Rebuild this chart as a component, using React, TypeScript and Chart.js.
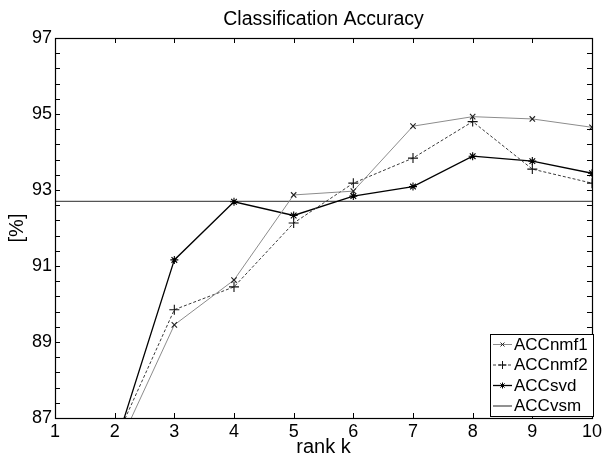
import React, { useEffect, useRef } from "react";
import { Chart, registerables } from "chart.js";
import { drawPoint } from "chart.js/helpers";

Chart.register(...registerables);

// ---------------- data ----------------
const ranks = [1, 2, 3, 4, 5, 6, 7, 8, 9, 10];
const accNmf1: (number | null)[] = [null, 86.05, 89.45, 90.63, 92.87, 92.97, 94.68, 94.93, 94.87, 94.65];
const accNmf2: (number | null)[] = [null, 86.38, 89.85, 90.45, 92.13, 93.18, 93.84, 94.8, 93.55, 93.18];
const accSvd: (number | null)[] = [null, 86.21, 91.16, 92.69, 92.33, 92.84, 93.09, 93.89, 93.76, 93.44];
const accVsm: number[] = [92.7, 92.7, 92.7, 92.7, 92.7, 92.7, 92.7, 92.7, 92.7, 92.7];
const seriesNames = ["ACCnmf1", "ACCnmf2", "ACCsvd", "ACCvsm"];
const yMin = 87;
const yMax = 97;
const yLabelStep = 2;
const yMinorStep = 0.4;
const xMin = 1;
const xMax = 10;
const titleText = "Classification Accuracy";
const xTitle = "rank k";
const yTitle = "[%]";

const FONT = "'Liberation Sans', Arial, Helvetica, sans-serif";

const toPoints = (arr: (number | null)[]) => ranks.map((k, i) => ({ x: k, y: arr[i] }));

const styles = [
  { color: "#8c8c8c", pointColor: "#222", width: 1, dash: [] as number[], point: "crossRot", radius: 3.8 },
  { color: "#3a3a3a", pointColor: "#111", width: 1, dash: [3, 2], point: "cross", radius: 5 },
  { color: "#000000", pointColor: "#000", width: 1.3, dash: [] as number[], point: "star", radius: 4 },
  { color: "#555555", pointColor: "#555", width: 1.3, dash: [] as number[], point: false as any, radius: 0 },
];

const matlabPlugin = {
  id: "matlabPlugin",
  afterDraw(chart: any) {
    const { ctx, chartArea } = chart;
    const { left, right, top, bottom } = chartArea;
    const xs = chart.scales.x;
    const ys = chart.scales.y;
    ctx.save();
    ctx.strokeStyle = "#000";
    ctx.lineWidth = 1;
    // ticks inward
    const tl = 5;
    ctx.beginPath();
    for (let v = xMin; v <= xMax + 1e-9; v += 1) {
      const px = Math.round(xs.getPixelForValue(v)) + 0.5;
      ctx.moveTo(px, bottom);
      ctx.lineTo(px, bottom - tl);
      ctx.moveTo(px, top);
      ctx.lineTo(px, top + tl);
    }
    const nMinor = Math.round((yMax - yMin) / yMinorStep);
    for (let i = 0; i <= nMinor; i++) {
      const v = yMin + i * yMinorStep;
      const py = Math.round(ys.getPixelForValue(v)) + 0.5;
      ctx.moveTo(left, py);
      ctx.lineTo(left + tl, py);
      ctx.moveTo(right, py);
      ctx.lineTo(right - tl, py);
    }
    ctx.stroke();
    // frame
    ctx.lineWidth = 1.2;
    ctx.strokeRect(Math.round(left) + 0.5, Math.round(top) + 0.5, Math.round(right - left), Math.round(bottom - top));
    ctx.lineWidth = 1;

    // legend
    const lx0 = 490, ly0 = 334, lw = 103, lh = 82;
    ctx.fillStyle = "#fff";
    ctx.fillRect(lx0, ly0, lw, lh);
    ctx.strokeRect(lx0 + 0.5, ly0 + 0.5, lw, lh);
    ctx.font = `17px ${FONT}`;
    ctx.textBaseline = "middle";
    ctx.textAlign = "left";
    seriesNames.forEach((name, i) => {
      const st = styles[i];
      const cy = ly0 + 10.5 + i * 20.5;
      ctx.save();
      ctx.strokeStyle = st.color;
      ctx.lineWidth = st.width;
      ctx.setLineDash(st.dash);
      ctx.beginPath();
      ctx.moveTo(lx0 + 3, cy);
      ctx.lineTo(lx0 + 22, cy);
      ctx.stroke();
      ctx.restore();
      if (st.point) {
        ctx.save();
        ctx.strokeStyle = st.pointColor;
        ctx.lineWidth = 1;
        drawPoint(ctx, { pointStyle: st.point, radius: st.radius - 1, borderWidth: 1, rotation: 0 } as any, lx0 + 12.5, cy);
        ctx.restore();
      }
      ctx.fillStyle = "#000";
      ctx.fillText(name, lx0 + 24, cy + 0.5);
    });

    // titles
    ctx.fillStyle = "#000";
    ctx.font = `19.5px ${FONT}`;
    ctx.textAlign = "center";
    ctx.textBaseline = "middle";
    ctx.fillText(titleText, (left + right) / 2, 20);
    ctx.font = `20px ${FONT}`;
    ctx.fillText(xTitle, (left + right) / 2, 447);
    ctx.save();
    ctx.translate(17, (top + bottom) / 2);
    ctx.rotate(-Math.PI / 2);
    ctx.fillText(yTitle, 0, 0);
    ctx.restore();
    ctx.restore();
  },
};

export default function App() {
  const ref = useRef<HTMLCanvasElement | null>(null);
  useEffect(() => {
    if (!ref.current) return;
    const datasets = [accNmf1, accNmf2, accSvd, accVsm].map((arr, i) => {
      const st = styles[i];
      return {
        label: seriesNames[i],
        data: toPoints(arr),
        borderColor: st.color,
        borderWidth: st.width,
        borderDash: st.dash,
        pointStyle: st.point,
        pointRadius: st.radius,
        pointBorderColor: st.pointColor,
        pointBackgroundColor: st.pointColor,
        pointBorderWidth: 1.1,
        tension: 0,
        fill: false,
        spanGaps: false,
      };
    });
    const chart = new Chart(ref.current, {
      type: "line",
      data: { datasets } as any,
      options: {
        responsive: false,
        animation: false,
        devicePixelRatio: 1,
        layout: { padding: { top: 38, right: 9, left: 0, bottom: 0 } },
        plugins: { legend: { display: false }, title: { display: false }, tooltip: { enabled: false } },
        scales: {
          x: {
            type: "linear",
            min: xMin,
            max: xMax,
            afterFit: (s: any) => { s.height = 39; },
            grid: { display: false, drawTicks: false },
            border: { display: false },
            ticks: { stepSize: 1, padding: 3, color: "#000", font: { family: FONT, size: 18 }, maxRotation: 0, autoSkip: false },
          },
          y: {
            type: "linear",
            min: yMin,
            max: yMax,
            afterFit: (s: any) => { s.width = 55; },
            grid: { display: false, drawTicks: false },
            border: { display: false },
            ticks: { stepSize: yLabelStep, padding: 3, color: "#000", font: { family: FONT, size: 18 }, autoSkip: false },
          },
        },
      } as any,
      plugins: [matlabPlugin],
    });
    return () => chart.destroy();
  }, []);
  return (
    <div style={{ position: "fixed", left: 0, top: 0, width: 605, height: 457, background: "#fff" }}>
      <canvas ref={ref} width={605} height={457} style={{ display: "block" }} />
    </div>
  );
}
